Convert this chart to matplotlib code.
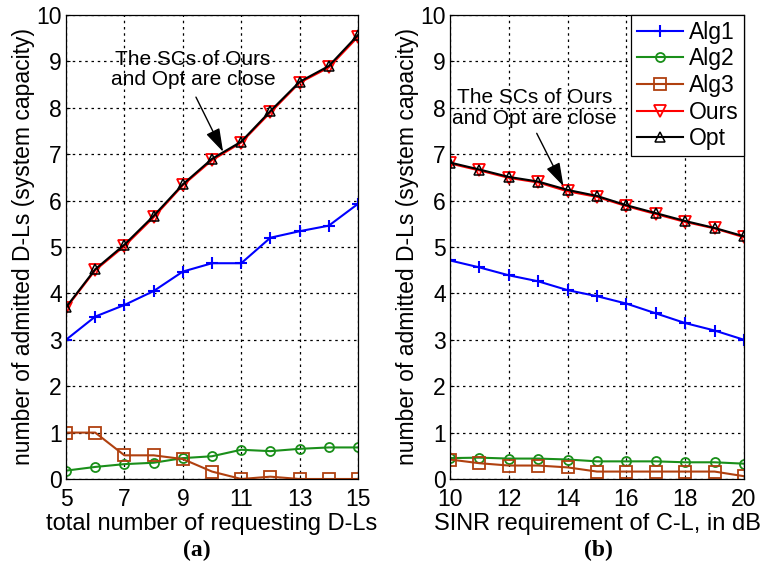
import matplotlib
matplotlib.use("Agg")
import matplotlib.pyplot as plt

plt.rcParams['font.family'] = ['Liberation Sans', 'DejaVu Sans']

# Panel (a)
xa = [5, 6, 7, 8, 9, 10, 11, 12, 13, 14, 15]
a_alg1 = [3.0, 3.5, 3.75, 4.05, 4.47, 4.65, 4.65, 5.2, 5.34, 5.46, 5.93]
a_alg2 = [0.18, 0.26, 0.32, 0.35, 0.45, 0.49, 0.63, 0.60, 0.65, 0.68, 0.68]
a_alg3 = [1.0, 1.0, 0.51, 0.51, 0.43, 0.16, 0.0, 0.05, 0.0, 0.0, 0.0]
a_ours = [3.68, 4.50, 5.02, 5.64, 6.33, 6.87, 7.25, 7.90, 8.54, 8.87, 9.53]
a_opt = [3.70, 4.52, 5.05, 5.67, 6.35, 6.90, 7.27, 7.93, 8.56, 8.90, 9.57]

# Panel (b)
xb = [10, 11, 12, 13, 14, 15, 16, 17, 18, 19, 20]
b_alg1 = [4.71, 4.56, 4.39, 4.26, 4.07, 3.94, 3.78, 3.57, 3.36, 3.20, 3.0]
b_alg2 = [0.45, 0.46, 0.44, 0.44, 0.42, 0.38, 0.38, 0.38, 0.36, 0.36, 0.33]
b_alg3 = [0.42, 0.34, 0.29, 0.29, 0.25, 0.16, 0.16, 0.16, 0.16, 0.16, 0.06]
b_ours = [6.80, 6.65, 6.49, 6.39, 6.20, 6.08, 5.88, 5.71, 5.54, 5.40, 5.21]
b_opt = [6.82, 6.67, 6.51, 6.41, 6.23, 6.10, 5.90, 5.73, 5.56, 5.41, 5.23]

labels = ['Alg1', 'Alg2', 'Alg3', 'Ours', 'Opt']
xlabels = ['total number of requesting D-Ls', 'SINR requirement of C-L, in dB']
ylabel = 'number of admitted D-Ls (system capacity)'
note = 'The SCs of Ours\nand Opt are close'

c_alg1 = '#0000ff'
c_alg2 = '#1a8f1a'
c_alg3 = '#b0400f'
c_ours = '#ff0000'
c_opt = '#000000'

fig = plt.figure(figsize=(7.64, 5.72), dpi=100)
axa = fig.add_axes([0.0864, 0.1626, 0.3822, 0.8112])
axb = fig.add_axes([0.5890, 0.1626, 0.3848, 0.8112])

def draw(ax, x, s1, s2, s3, s4, s5):
    lw = 1.5
    ax.plot(x, s1, color=c_alg1, marker='+', ms=9, mew=1.5, lw=lw, label=labels[0])
    ax.plot(x, s2, color=c_alg2, marker='o', ms=6.5, mfc='none', mew=1.3, lw=lw, label=labels[1])
    ax.plot(x, s3, color=c_alg3, marker='s', ms=8, mfc='none', mew=1.3, lw=lw, label=labels[2])
    ax.plot(x, s4, color=c_ours, marker='v', ms=8, mfc='none', mew=1.3, lw=lw, label=labels[3])
    ax.plot(x, s5, color=c_opt, marker='^', ms=7, mfc='none', mew=1.1, lw=lw, label=labels[4])
    ax.set_ylim(0, 10)
    ax.set_yticks(range(0, 11))
    ax.grid(True, color='black', linestyle=(0, (2, 3)), linewidth=0.9)
    ax.tick_params(labelsize=16.5, direction='in', length=3)
    ax.tick_params(axis='x', pad=6.5)
    ax.tick_params(axis='y', pad=3)
    for sp in ax.spines.values():
        sp.set_linewidth(0.9)
    ax.set_ylabel(ylabel, fontsize=16.5, labelpad=1)

draw(axa, xa, a_alg1, a_alg2, a_alg3, a_ours, a_opt)
axa.set_xlim(5, 15)
axa.set_xticks([5, 7, 9, 11, 13, 15])
axa.set_xlabel(xlabels[0], fontsize=17, labelpad=1.5)

draw(axb, xb, b_alg1, b_alg2, b_alg3, b_ours, b_opt)
axb.set_xlim(10, 20)
axb.set_xticks([10, 12, 14, 16, 18, 20])
axb.set_xlabel(xlabels[1], fontsize=17, labelpad=1.5)

leg = axb.legend(loc='upper right', fontsize=16.5, frameon=True, fancybox=False,
                 edgecolor='black', framealpha=1, borderaxespad=0,
                 handlelength=2.0, handletextpad=0.25, labelspacing=0.16,
                 borderpad=0.25)
leg.get_frame().set_linewidth(0.9)

arrow = dict(arrowstyle='-|>,head_length=0.8,head_width=0.25', color='black',
             lw=1.0, mutation_scale=18, shrinkA=0, shrinkB=0)
axa.text(9.35, 8.82, note, fontsize=15, ha='center', va='center', linespacing=1.1)
axa.annotate('', xy=(10.38, 7.05), xytext=(9.45, 8.23), arrowprops=arrow)
axb.text(12.88, 8.0, note, fontsize=15, ha='center', va='center', linespacing=1.1)
axb.annotate('', xy=(13.86, 6.31), xytext=(12.95, 7.45), arrowprops=arrow)

fig.text(197 / 764, 1 - 550 / 572, '(a)', fontsize=17, fontweight='bold',
         family=['Liberation Serif'], ha='center', va='center')
fig.text(598 / 764, 1 - 550 / 572, '(b)', fontsize=17, fontweight='bold',
         family=['Liberation Serif'], ha='center', va='center')

fig.savefig('out.png', dpi=100)
